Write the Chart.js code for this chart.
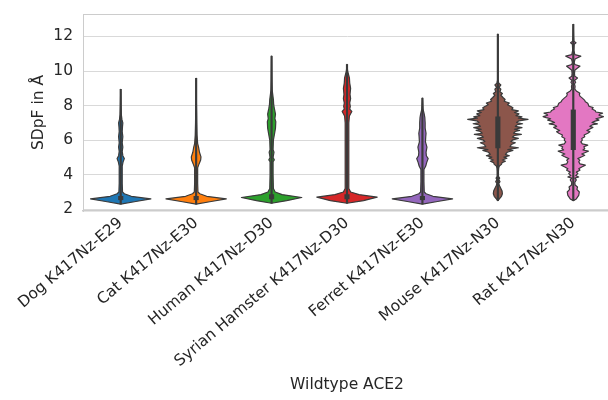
<!doctype html>
<html lang="en">
<head>
<meta charset="utf-8"/>
<title>SDpF violins</title>
<script src="https://cdn.jsdelivr.net/npm/chart.js"></script>
<style>
html,body{margin:0; padding:0; background:#fff; overflow:hidden}
#wrap{width:612px; height:400px}
</style>
</head>
<body>
<div id="wrap"><canvas id="chart" width="612" height="400"></canvas></div>
<script>
// categories and colours (seaborn tab10)
const categories = ['Dog K417Nz-E29', 'Cat K417Nz-E30', 'Human K417Nz-D30', 'Syrian Hamster K417Nz-D30',
  'Ferret K417Nz-E30', 'Mouse K417Nz-N30', 'Rat K417Nz-N30'];
const colors = ['#1f77b4', '#ff7f0e', '#2ca02c', '#d62728', '#9467bd', '#8c564b', '#e377c2'];
const yTicks = [2, 4, 6, 8, 10, 12];

// violin outlines: SDpF level and relative half width (1 = widest)
const dogY = [2.3, 2.45, 2.6, 2.75, 2.9, 3.0, 3.5, 4.5, 4.75, 4.93, 5.1, 5.35, 5.6, 5.85, 6.2, 6.5, 6.8, 7.0, 7.2, 7.5, 8.0, 8.94];
const dogW = [0, 0.5, 1, 0.35, 0.12, 0.06, 0.05, 0.05, 0.08, 0.12, 0.07, 0.05, 0.07, 0.05, 0.07, 0.05, 0.06, 0.07, 0.04, 0.02, 0.01, 0];
const catY = [2.3, 2.45, 2.6, 2.75, 2.9, 3.0, 3.5, 4.4, 4.64, 4.85, 5.03, 5.3, 5.6, 5.8, 6.3, 7.0, 7.6, 8.5, 9.58];
const catW = [0, 0.5, 1, 0.35, 0.12, 0.06, 0.05, 0.05, 0.1, 0.15, 0.16, 0.11, 0.08, 0.05, 0.03, 0.02, 0.015, 0.005, 0];
const humanY = [2.35, 2.5, 2.68, 2.85, 3.0, 3.2, 4.0, 4.75, 4.86, 5.0, 5.3, 5.45, 6.0, 6.39, 6.7, 7.07, 7.25, 7.5, 7.85, 8.05, 8.35, 8.9, 9.5, 10.86];
const humanW = [0, 0.5, 1, 0.35, 0.12, 0.06, 0.05, 0.05, 0.09, 0.05, 0.08, 0.05, 0.06, 0.1, 0.13, 0.14, 0.11, 0.13, 0.09, 0.07, 0.06, 0.02, 0.01, 0];
const syrianY = [2.35, 2.5, 2.7, 2.85, 3.0, 3.2, 5.0, 7.0, 7.4, 7.66, 7.8, 7.95, 8.15, 8.4, 8.65, 9.0, 9.3, 9.6, 9.8, 10.0, 10.38];
const syrianW = [0, 0.55, 1, 0.4, 0.12, 0.06, 0.06, 0.06, 0.08, 0.16, 0.09, 0.11, 0.09, 0.12, 0.1, 0.12, 0.09, 0.08, 0.05, 0.02, 0];
const ferretY = [2.3, 2.45, 2.6, 2.75, 2.9, 3.0, 3.6, 4.3, 4.5, 4.7, 4.93, 5.1, 5.3, 5.6, 5.9, 6.2, 6.4, 6.7, 7.0, 7.3, 7.5, 7.8, 8.43];
const ferretW = [0, 0.5, 1, 0.35, 0.12, 0.06, 0.05, 0.05, 0.11, 0.14, 0.19, 0.13, 0.12, 0.15, 0.1, 0.11, 0.12, 0.09, 0.09, 0.08, 0.06, 0.02, 0];
const mouseY = [2.5, 2.6, 2.75, 2.9, 3.05, 3.2, 3.35, 3.48, 3.6, 3.72, 3.8, 3.9, 4.2, 4.4,
  4.5, 4.6, 4.7, 4.78, 4.85, 4.95, 5.02, 5.1, 5.18, 5.3, 5.4, 5.45, 5.56, 5.62, 5.75, 5.85, 5.92, 6.02, 6.1, 6.17,
  6.27, 6.33, 6.4, 6.5, 6.57, 6.63, 6.72, 6.8, 6.9, 6.95, 7.02, 7.12, 7.2, 7.27, 7.35, 7.42, 7.52, 7.6, 7.69, 7.77,
  7.87, 7.95, 8.05, 8.15, 8.25, 8.35, 8.47, 8.6, 8.7, 8.8, 8.95, 9.05, 9.2, 9.3, 9.5, 12.13];
const mouseW = [0, 0.05, 0.12, 0.15, 0.14, 0.1, 0.06, 0.03, 0.07, 0.03, 0.06, 0.02, 0.02, 0.03,
  0.05, 0.12, 0.14, 0.25, 0.15, 0.3, 0.2, 0.38, 0.25, 0.31, 0.5, 0.33, 0.68, 0.4, 0.45, 0.58, 0.43, 0.5, 0.68, 0.48,
  0.55, 0.78, 0.52, 0.58, 0.72, 0.55, 0.8, 0.58, 0.65, 0.82, 0.62, 0.7, 1.0, 0.68, 0.8, 0.6, 0.7, 0.55, 0.68, 0.46,
  0.5, 0.43, 0.32, 0.38, 0.21, 0.24, 0.17, 0.1, 0.15, 0.07, 0.1, 0.04, 0.1, 0.03, 0.005, 0];
const ratY = [2.5, 2.6, 2.8, 3.0, 3.15, 3.29, 3.4, 3.55, 3.7, 3.8, 3.87, 3.95, 4.07, 4.15, 4.26, 4.35, 4.45, 4.55, 4.63, 4.75,
  4.84, 4.93, 5.05, 5.13, 5.2, 5.3, 5.36, 5.43, 5.52, 5.62, 5.71, 5.78, 5.9, 6.0, 6.1, 6.2, 6.3, 6.4, 6.49, 6.56,
  6.65, 6.74, 6.8, 6.9, 6.94, 7.02, 7.1, 7.16, 7.24, 7.3, 7.36, 7.44, 7.5, 7.56, 7.63, 7.72, 7.8, 7.88, 7.96, 8.05,
  8.14, 8.22, 8.3, 8.43, 8.55, 8.65, 8.72, 8.85, 8.95, 9.11, 9.25, 9.35, 9.45, 9.6, 9.7, 9.85, 10.05, 10.15, 10.28, 10.38,
  10.5, 10.7, 10.86, 10.95, 11.2, 11.55, 11.64, 11.72, 12.0, 12.7];
const ratW = [0, 0.1, 0.18, 0.2, 0.12, 0.14, 0.06, 0.05, 0.1, 0.05, 0.18, 0.08, 0.15, 0.1, 0.22, 0.18, 0.28, 0.4, 0.22, 0.18,
  0.22, 0.15, 0.3, 0.38, 0.28, 0.42, 0.5, 0.32, 0.38, 0.35, 0.48, 0.3, 0.25, 0.3, 0.28, 0.38, 0.36, 0.48, 0.55, 0.45,
  0.55, 0.65, 0.55, 0.65, 0.8, 0.62, 0.72, 0.85, 0.75, 0.9, 1.0, 0.85, 0.88, 0.97, 0.75, 0.72, 0.62, 0.66, 0.52, 0.5,
  0.48, 0.4, 0.38, 0.3, 0.22, 0.2, 0.22, 0.1, 0.05, 0.06, 0.04, 0.08, 0.04, 0.14, 0.05, 0.04, 0.05, 0.12, 0.22, 0.05,
  0.03, 0.06, 0.25, 0.05, 0.02, 0.03, 0.09, 0.02, 0.01, 0];

// inner box (quartiles)
const boxLow  = [2.55, 2.55, 2.6, 2.6, 2.55, 5.55, 5.45];
const boxHigh = [2.75, 2.75, 2.85, 2.85, 2.75, 7.35, 7.75];

const violinY = [dogY, catY, humanY, syrianY, ferretY, mouseY, ratY];
const violinW = [dogW, catW, humanW, syrianW, ferretW, mouseW, ratW];
const whiskers = violinY.map(a => [a[0], a[a.length - 1]]);
const boxes = boxLow.map((v, i) => [v, boxHigh[i]]);

const TXT = '#262626', EDGE = '#3a3a3a', FRAME = '#cccccc';
const font = (s) => ({ family: "'DejaVu Sans', sans-serif", size: s });

const violinPlugin = {
  id: 'violins',
  beforeDatasetsDraw(chart){
    const { ctx, scales: { x, y } } = chart;
    const half = 0.4 * Math.abs(x.getPixelForValue(1) - x.getPixelForValue(0));
    categories.forEach((c, i) => {
      const ys = violinY[i], ws = violinW[i];
      const n = Math.min(ys.length, ws.length);
      const cx = x.getPixelForValue(i);
      ctx.save();
      ctx.beginPath();
      for (let k = 0; k < n; k++) ctx.lineTo(cx + ws[k] * half, y.getPixelForValue(ys[k]));
      for (let k = n - 1; k >= 0; k--) ctx.lineTo(cx - ws[k] * half, y.getPixelForValue(ys[k]));
      ctx.closePath();
      ctx.fillStyle = colors[i];
      ctx.fill();
      ctx.lineWidth = 1.2;
      ctx.lineJoin = 'round';
      ctx.strokeStyle = EDGE;
      ctx.stroke();
      ctx.restore();
    });
  }
};

const framePlugin = {
  id: 'frame',
  beforeDraw(chart){
    const { ctx, chartArea: a } = chart;
    ctx.save();
    ctx.strokeStyle = FRAME;
    ctx.lineWidth = 1;
    ctx.beginPath();
    ctx.moveTo(a.left, a.top + 0.5);
    ctx.lineTo(a.right, a.top + 0.5);
    ctx.lineTo(a.right, a.bottom);
    ctx.stroke();
    ctx.restore();
  }
};

new Chart(document.getElementById('chart'), {
  type: 'bar',
  data: {
    labels: categories,
    datasets: [
      { label: 'whiskers', data: whiskers, backgroundColor: EDGE, barThickness: 1.5, grouped: false },
      { label: 'box', data: boxes, backgroundColor: EDGE, barThickness: 4.5, grouped: false }
    ]
  },
  options: {
    responsive: false,
    animation: false,
    devicePixelRatio: 1,
    layout: { padding: { top: 14, right: 1, left: 0, bottom: 2 } },
    plugins: { legend: { display: false }, tooltip: { enabled: false } },
    scales: {
      x: {
        grid: { display: false, drawTicks: false },
        border: { color: FRAME, width: 1.5 },
        ticks: { font: font(15.5), color: TXT, minRotation: 40, maxRotation: 40, padding: 3, autoSkip: false },
        title: { display: true, text: 'Wildtype ACE2', font: font(15.5), color: TXT, padding: { top: 0, bottom: 4 } },
        afterFit(s){ s.height = 187; s.paddingLeft = 0; s.paddingRight = 0; }
      },
      y: {
        min: 1.9, max: 13.3,
        afterBuildTicks(s){ s.ticks = yTicks.map(v => ({ value: v })); },
        grid: { color: '#d9d9d9', drawTicks: false },
        border: { color: FRAME },
        ticks: { font: font(15.5), color: TXT, padding: 10 },
        title: { display: true, text: 'SDpF in Å', font: font(15.5), color: TXT, padding: { top: 30, bottom: 0 } },
        afterFit(s){ s.width = 83; s.paddingTop = 0; s.paddingBottom = 0; }
      }
    }
  },
  plugins: [framePlugin, violinPlugin]
});
</script>
</body>
</html>
